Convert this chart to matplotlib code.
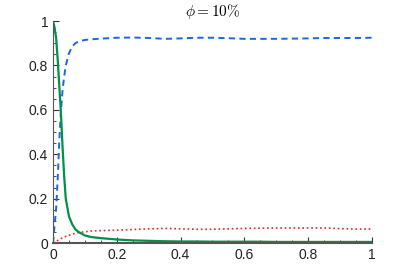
import matplotlib
matplotlib.use('Agg')
import matplotlib.pyplot as plt
from matplotlib.ticker import MultipleLocator

plt.rcParams['font.family'] = ['Liberation Sans', 'DejaVu Sans']
plt.rcParams['mathtext.fontset'] = 'cm'

# values
x_vals = [0, 0.005, 0.01, 0.015, 0.02, 0.025, 0.03, 0.035, 0.04, 0.05, 0.06, 0.07, 0.08, 0.1,
          0.12, 0.15, 0.2, 0.25, 0.3, 0.35, 0.4, 0.45, 0.5, 0.55, 0.6, 0.65, 0.7, 0.75, 0.8,
          0.85, 0.9, 0.95, 1.0]
blue_vals = [0, 0.08, 0.16, 0.3, 0.47, 0.6, 0.69, 0.75, 0.8, 0.855, 0.885, 0.9, 0.908, 0.915,
             0.918, 0.921, 0.925, 0.926, 0.924, 0.92, 0.922, 0.925, 0.925, 0.923, 0.92, 0.92,
             0.92, 0.921, 0.922, 0.924, 0.924, 0.924, 0.925]
green_vals = [1.0, 0.97, 0.92, 0.82, 0.7, 0.58, 0.43, 0.3, 0.2, 0.12, 0.085, 0.062, 0.05, 0.034,
              0.027, 0.022, 0.016, 0.012, 0.01, 0.008, 0.007, 0.007, 0.006, 0.006, 0.006, 0.006,
              0.005, 0.005, 0.005, 0.005, 0.005, 0.005, 0.005]
red_vals = [0, 0.004, 0.008, 0.012, 0.016, 0.02, 0.024, 0.027, 0.03, 0.035, 0.04, 0.044, 0.047,
            0.051, 0.054, 0.056, 0.058, 0.061, 0.064, 0.066, 0.064, 0.062, 0.062, 0.064, 0.066,
            0.067, 0.068, 0.068, 0.068, 0.068, 0.065, 0.063, 0.063]
tick_vals = [0, 0.2, 0.4, 0.6, 0.8, 1.0]
tick_labels = ['0', '0.2', '0.4', '0.6', '0.8', '1']

fig = plt.figure(figsize=(4.11, 2.74), dpi=100)
ax = fig.add_axes([0.129, 0.113, 0.776, 0.81])

ax.plot(x_vals, blue_vals, color='#1a66e6', linestyle=(0, (3.2, 2.2)), linewidth=1.4)
ax.plot(x_vals, red_vals, color='#e02828', linestyle=':', linewidth=1.2)
ax.plot(x_vals, green_vals, color='#00904a', linestyle='-', linewidth=1.6)

ax.set_xlim(0, 1)
ax.set_ylim(0, 1)
ax.spines['top'].set_visible(False)
ax.spines['right'].set_visible(False)
ax.spines['left'].set_color('#555555')
ax.spines['bottom'].set_color('#555555')
ax.spines['bottom'].set_linewidth(1.5)

ax.set_xticks(tick_vals, tick_labels)
ax.set_yticks(tick_vals, tick_labels)
ax.xaxis.set_minor_locator(MultipleLocator(0.05))
ax.yaxis.set_minor_locator(MultipleLocator(0.05))
ax.tick_params(which='both', direction='in', color='#333333', labelsize=10, labelcolor='#222222')
ax.tick_params(which='major', length=4)
ax.tick_params(which='minor', length=2.5)

ax.set_title(r'$\phi = 10\%$', fontsize=11, pad=4)

fig.savefig('out.png', dpi=100)
